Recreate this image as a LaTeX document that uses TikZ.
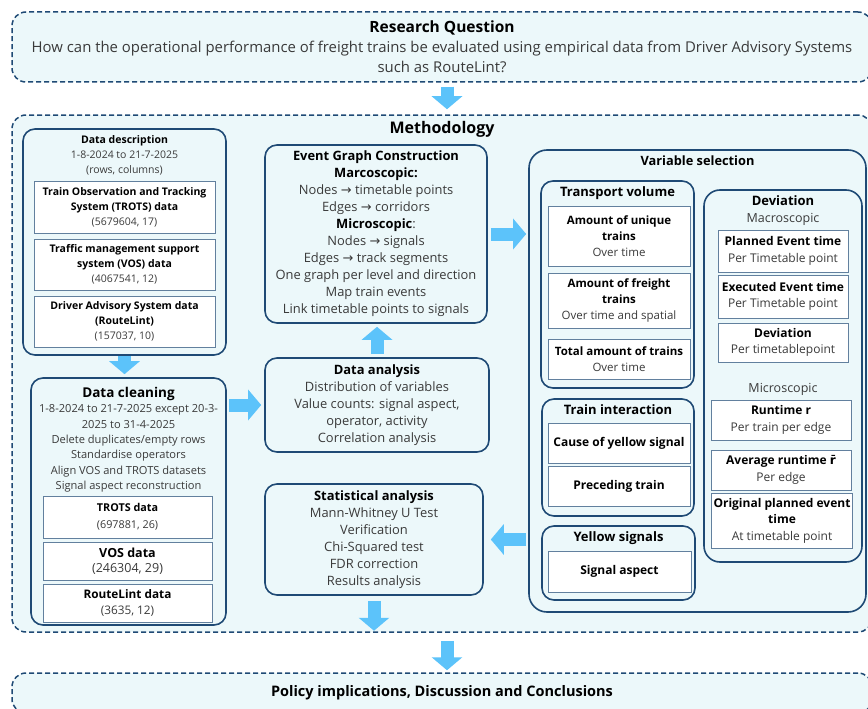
\documentclass[tikz,border=0pt]{standalone}
\usepackage{fontspec}
\setmainfont{Open Sans}
\newfontfamily\dejafont{DejaVu Sans}
\usepackage{xcolor}
\usetikzlibrary{positioning,arrows.meta}
\definecolor{hlnavy}{HTML}{1F4A75}
\definecolor{hlpale}{HTML}{ECF8FA}
\definecolor{hlarrow}{HTML}{5CC3FA}
\definecolor{hltext}{HTML}{3A3A3A}
\newcommand{\toarr}{{\dejafont\char"2192}}
\newcommand{\bfx}[1]{{\color{black}\bfseries #1}}

\begin{document}
\begin{tikzpicture}[x=1pt, y=-1pt, text=hltext]
    \tikzstyle{outer}=[draw=hlnavy, fill=hlpale, dashed, dash pattern=on 5pt off 3pt,
                       line width=1.5pt, rounded corners=14pt, align=center]
    \tikzstyle{group}=[draw=hlnavy, fill=hlpale, line width=1.6pt, rounded corners=12pt,
                       align=center, inner sep=2pt]
    \tikzstyle{cell}=[draw=hlnavy!70, fill=white, line width=1pt, align=center, inner sep=1pt]
    \tikzstyle{head}=[inner sep=0pt, align=center]
    \tikzstyle{fatarrow}=[draw=hlarrow, line width=13pt, -{Triangle[width=30pt,length=13pt]}]
    \tikzstyle{body}=[font=\fontsize{12.9}{17}\selectfont]
    \tikzstyle{small}=[font=\fontsize{10.5}{15}\selectfont]
    \tikzstyle{mid}=[font=\fontsize{11.5}{16}\selectfont]
    \tikzstyle{devcell}=[font=\fontsize{12}{16.5}\selectfont]

    \fill[white] (0,0) rectangle (868,709);
    \useasboundingbox (0,0) rectangle (868,709);
    \clip (0,0) rectangle (868,709);

    % research question and methodology frames
    \node[outer, minimum width=860, minimum height=70, font=\fontsize{14.9}{20}\selectfont]
        (rq) at (442,47) {{\fontsize{15.5}{20}\selectfont\bfx{Research Question}}\\
        How can the operational performance of freight trains be evaluated using empirical data from Driver Advisory Systems\\
        such as RouteLint?};
    \node[outer, minimum width=860, minimum height=517] (meth) at (442,373.5) {};
    \node[head, below=7pt of meth.north, font=\fontsize{16}{18}\selectfont] (methtitle) {\bfx{Methodology}};
    \node[outer, minimum width=860, minimum height=40, font=\fontsize{14.5}{18}\selectfont]
        (pol) at (442,693) {\bfx{Policy implications, Discussion and Conclusions}};

    % data description
    \node[group, minimum width=203, minimum height=226] (ddesc) at (124.5,242) {};
    \node[head, small, below=7pt of ddesc.north] (ddesctitle)
        {\bfx{Data description}\\1-8-2024 to 21-7-2025\\(rows, columns)};
    \node[cell, small, minimum width=181, minimum height=52] (trotsa) at (124.5,207)
        {\bfx{Train Observation and Tracking}\\\bfx{System (TROTS) data}\\(5679604, 17)};
    \node[cell, small, minimum width=181, minimum height=51] (vosa) at (124.5,264.5)
        {\bfx{Traffic management support}\\\bfx{system (VOS) data}\\(4067541, 12)};
    \node[cell, small, minimum width=181, minimum height=51] (rla) at (124.5,321.5)
        {\bfx{Driver Advisory System data}\\\bfx{(RouteLint)}\\(157037, 10)};

    % data cleaning
    \node[group, minimum width=195, minimum height=247] (dclean) at (128.5,501.5) {};
    \node[head, below=10pt of dclean.north, font=\fontsize{11.1}{15.3}\selectfont] (dcleantitle)
        {{\fontsize{13.5}{18}\selectfont\bfx{Data cleaning}}\\
         1-8-2024 to 21-7-2025 except 20-3-\\2025 to 31-4-2025\\
         Delete duplicates/empty rows\\Standardise operators\\
         Align VOS and TROTS datasets\\Signal aspect reconstruction};
    \node[cell, minimum width=169, minimum height=42, font=\fontsize{10.8}{17}\selectfont]
        (trotsb) at (127.5,517) {\bfx{TROTS data}\\(697881, 26)};
    \node[cell, minimum width=169, minimum height=38, font=\fontsize{12.5}{15}\selectfont]
        (vosb) at (127.5,561) {\bfx{VOS data}\\(246304, 29)};
    \node[cell, minimum width=169, minimum height=38, font=\fontsize{11.8}{16}\selectfont]
        (rlb) at (127.5,603) {\bfx{RouteLint data}\\(3635, 12)};

    % middle column
    \node[group, body, minimum width=222, minimum height=178] (egc) at (376,234)
        {\bfx{Event Graph Construction}\\\bfx{Marcoscopic:}\\
         Nodes \toarr{} timetable points\\Edges \toarr{} corridors\\
         \bfx{Microscopic}:\\Nodes \toarr{} signals\\Edges \toarr{} track segments\\
         One graph per level and direction\\Map train events\\
         Link timetable points to signals};
    \node[group, body, minimum width=224, minimum height=94] (dana) at (377,405)
        {\bfx{Data analysis}\\Distribution of variables\\Value counts: signal aspect,\\
         operator, activity\\Correlation analysis};
    \node[group, body, minimum width=218, minimum height=111] (stat) at (374,539.5)
        {\bfx{Statistical analysis}\\Mann-Whitney U Test\\Verification\\
         Chi-Squared test\\FDR correction\\Results analysis};

    % variable selection
    \node[group, minimum width=337, minimum height=462, rounded corners=18pt] (vs) at (697.5,381) {};
    \node[head, below=6pt of vs.north, font=\fontsize{12.8}{16}\selectfont] (vstitle) {\bfx{Variable selection}};

    \node[group, minimum width=153, minimum height=207] (tv) at (617.5,284.5) {};
    \node[head, below=6pt of tv.north, font=\fontsize{13}{16}\selectfont] (tvtitle) {\bfx{Transport volume}};
    \node[cell, mid, minimum width=142, minimum height=60] (au) at (619,236)
        {\bfx{Amount of unique}\\\bfx{trains}\\Over time};
    \node[cell, mid, minimum width=142, minimum height=55] (af) at (619,300.5)
        {\bfx{Amount of freight}\\\bfx{trains}\\Over time and spatial};
    \node[cell, mid, minimum width=142, minimum height=40] (ta) at (619,359)
        {\bfx{Total amount of trains}\\Over time};

    \node[group, minimum width=152, minimum height=117] (ti) at (618,457.5) {};
    \node[head, below=6pt of ti.north, font=\fontsize{13}{16}\selectfont] (tititle) {\bfx{Train interaction}};
    \node[cell, devcell, minimum width=142, minimum height=40] (cy) at (619,443) {\bfx{Cause of yellow signal}};
    \node[cell, devcell, minimum width=142, minimum height=40] (pt) at (619,486) {\bfx{Preceding train}};

    \node[group, minimum width=153, minimum height=74] (ys) at (618.5,563) {};
    \node[head, below=6pt of ys.north, font=\fontsize{13}{16}\selectfont] (ystitle) {\bfx{Yellow signals}};
    \node[cell, devcell, minimum width=143, minimum height=41] (sa) at (619.5,571.5) {\bfx{Signal aspect}};

    \node[group, minimum width=158, minimum height=372, rounded corners=16pt] (dev) at (783,376) {};
    \node[head, below=6pt of dev.north, font=\fontsize{12.5}{17}\selectfont] (devtitle)
        {{\fontsize{13}{17}\selectfont\bfx{Deviation}}\\Macroscopic};
    \node[cell, devcell, minimum width=130, minimum height=42] (pe) at (783,251)
        {\bfx{Planned Event time}\\Per Timetable point};
    \node[cell, devcell, minimum width=130, minimum height=43] (ee) at (783,296.5)
        {\bfx{Executed Event time}\\Per Timetable point};
    \node[cell, devcell, minimum width=130, minimum height=39] (de) at (783,342.5)
        {\bfx{Deviation}\\Per timetablepoint};
    \node[head, above=5pt of dev.center, yshift=-25pt, font=\fontsize{12.5}{16}\selectfont] (microtitle) {Microscopic};
    \node[cell, devcell, minimum width=140, minimum height=40] (rr) at (781,420)
        {\bfx{Runtime r}\\Per train per edge};
    \node[cell, devcell, minimum width=140, minimum height=40] (ar) at (781,470)
        {\bfx{Average runtime {\dejafont r\char"0304}}\\Per edge};
    \node[cell, devcell, minimum width=141, minimum height=55] (op) at (782,520.5)
        {\bfx{Original planned event}\\\bfx{time}\\At timetable point};

    % connectors
    \draw[fatarrow, shorten <=4pt, shorten >=5pt] ([xshift=5pt]rq.south) -- ([xshift=5pt]meth.north);
    \draw[fatarrow, shorten >=3pt] (ddesc.south) -- (ddesc.south |- dclean.north);
    \draw[fatarrow, shorten <=2pt, shorten >=3pt] (dclean.east |- dana.west) -- (dana.west);
    \draw[fatarrow, shorten <=3pt, shorten >=3pt] (dana.north) -- (dana.north |- egc.south);
    \draw[fatarrow, shorten <=3pt, shorten >=2pt] (egc.east) -- (egc.east -| vs.west);
    \draw[fatarrow, shorten <=2pt, shorten >=7pt] (vs.west |- stat.east) -- (stat.east);
    \draw[fatarrow, shorten <=5pt, shorten >=2pt] (stat.south) -- (stat.south |- meth.south);
    \draw[fatarrow, shorten <=8pt, shorten >=2pt] ([xshift=5pt]meth.south) -- ([xshift=5pt]pol.north);
\end{tikzpicture}
\end{document}
